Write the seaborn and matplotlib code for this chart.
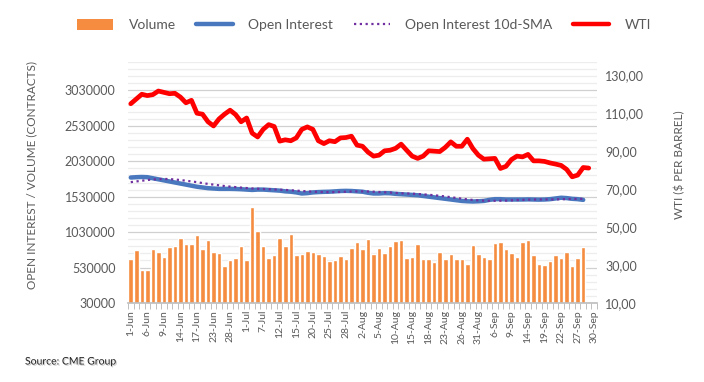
import matplotlib.pyplot as plt
import matplotlib.ticker as mticker
import matplotlib.patheffects as pe
from matplotlib.lines import Line2D
from matplotlib.patches import Patch
import numpy as np
import pandas as pd
import seaborn as sns

# trading days 1-Jun .. 30-Sep (US holidays skipped)
holidays = ["2022-06-20", "2022-07-04", "2022-09-05"]
days = pd.bdate_range("2022-06-01", "2022-09-30", freq="C", holidays=holidays)
date_labels = [f"{d.day}-{d.strftime('%b')}" for d in days]

# volume (contracts), 1-Jun .. 28-Sep
volume = [651, 779, 496, 496, 793, 750, 680, 821, 835, 948,
          863, 863, 990, 793, 920, 750, 736, 553, 637, 665,
          835, 637, 1386, 1047, 835, 665, 708, 948, 835, 1005,
          708, 722, 764, 750, 722, 694, 623, 637, 694, 651,
          807, 891, 793, 934, 722, 807, 736, 835, 906, 920,
          665, 680, 863, 651, 651, 609, 750, 651, 722, 651,
          651, 581, 849, 722, 680, 651, 877, 891, 793, 736,
          680, 891, 920, 708, 581, 567, 623, 708, 665, 750,
          553, 665, 821]
volume = [v * 1000 for v in volume]

# open interest (thousand contracts)
open_interest = [1800, 1805, 1808, 1805, 1790, 1775, 1760, 1745, 1730, 1715,
                 1700, 1685, 1670, 1660, 1650, 1645, 1640, 1640, 1640, 1638,
                 1635, 1630, 1625, 1630, 1630, 1625, 1620, 1615, 1605, 1600,
                 1590, 1575, 1580, 1590, 1595, 1598, 1600, 1605, 1610, 1612,
                 1610, 1605, 1600, 1585, 1575, 1575, 1580, 1578, 1570, 1565,
                 1560, 1555, 1550, 1540, 1530, 1520, 1510, 1500, 1490, 1480,
                 1470, 1465, 1462, 1465, 1470, 1485, 1495, 1495, 1490, 1490,
                 1490, 1490, 1492, 1490, 1488, 1490, 1495, 1505, 1515, 1510,
                 1500, 1495, 1485]
open_interest = [v * 1000 for v in open_interest]

oi_sma = [1735, 1745, 1755, 1765, 1772, 1778, 1780, 1778, 1772, 1765,
          1755, 1745, 1735, 1722, 1710, 1700, 1690, 1680, 1672, 1665,
          1658, 1652, 1646, 1642, 1638, 1635, 1632, 1628, 1625, 1620,
          1615, 1610, 1605, 1600, 1598, 1595, 1594, 1595, 1597, 1600,
          1603, 1605, 1605, 1603, 1600, 1596, 1592, 1588, 1583, 1578,
          1575, 1572, 1568, 1563, 1557, 1550, 1542, 1533, 1523, 1512,
          1502, 1492, 1484, 1478, 1474, 1472, 1472, 1473, 1475, 1478,
          1482, 1485, 1488, 1490, 1491, 1491, 1491, 1492, 1494, 1496,
          1498, 1499, 1499]
oi_sma = [v * 1000 for v in oi_sma]

# WTI ($ per barrel), 1-Jun .. 29-Sep
wti = [115.0, 117.5, 120.0, 119.3, 119.8, 121.7, 121.0, 120.3, 120.5, 118.5,
       115.5, 116.8, 110.0, 109.5, 105.5, 103.3, 107.0, 109.5, 111.6, 109.3,
       105.5, 107.5, 99.5, 97.5, 101.5, 104.0, 103.0, 95.3, 96.0, 95.5,
       97.0, 101.5, 102.8, 101.5, 95.5, 94.0, 95.5, 95.0, 97.0, 97.2,
       97.9, 93.2, 92.6, 89.5, 87.4, 87.9, 90.2, 90.5, 91.5, 93.7,
       90.5, 87.4, 86.2, 87.4, 90.2, 90.0, 89.8, 92.0, 94.9, 92.6,
       92.6, 96.3, 91.4, 87.9, 85.8, 86.0, 86.2, 80.9, 82.0, 85.6,
       87.4, 87.0, 88.3, 84.9, 84.9, 84.6, 83.8, 83.2, 82.5, 80.4,
       76.5, 77.4, 81.4, 81.1]

left_ticks = list(range(30000, 3030001, 500000))
right_ticks = [10, 30, 50, 70, 90, 110, 130]

bar_color = "#F58C3F"
oi_color = "#4A78BE"
sma_color = "#7030A0"
wti_color = "#FF0000"
text_color = "#595959"

sns.set_theme(style="white")
plt.rcParams["font.family"] = ["Lato", "DejaVu Sans"]

fig = plt.figure(figsize=(7.04, 3.82), dpi=100)
ax = fig.add_axes([128 / 704, 1 - 303 / 382, (597 - 128) / 704, (303 - 62) / 382])

vol_df = pd.DataFrame({"date": date_labels[:len(volume)], "volume": volume})
sns.barplot(data=vol_df, x="date", y="volume", order=date_labels, color=bar_color,
            saturation=1, width=0.82, ax=ax, zorder=2)

pos = np.arange(len(open_interest))
sns.lineplot(x=pos, y=open_interest, ax=ax, color=oi_color, lw=3.2, zorder=3)
sns.lineplot(x=pos, y=oi_sma, ax=ax, color=sma_color, lw=1.6, ls=(0, (1, 1.6)), zorder=4)

ax.set_xlim(-0.5, len(date_labels) - 0.5)
ax.set_ylim(30000, 3430000)
ax.set_yticks(left_ticks)
ax.set_yticklabels([str(t) for t in left_ticks])
ax.yaxis.set_minor_locator(mticker.FixedLocator(np.arange(30000, 3430001, 100000)))
ax.grid(True, which="major", axis="y", color="#D0D0D0", lw=0.9, zorder=0)
ax.grid(True, which="minor", axis="y", color="#EDEDED", lw=0.9, zorder=0)
ax.set_axisbelow(True)

ax.set_xticks(np.arange(0, len(date_labels), 3))
ax.set_xticklabels(date_labels[::3], rotation=90, fontsize=7.5, color=text_color)
ax.xaxis.set_minor_locator(mticker.FixedLocator(np.arange(-0.5, len(date_labels), 1)))
ax.tick_params(axis="x", which="major", length=0, pad=5)
ax.tick_params(axis="x", which="minor", length=4, width=0.7, color="#BFBFBF", bottom=True)
ax.tick_params(axis="y", which="both", length=0, labelsize=9, labelcolor=text_color, pad=9)

for side in ["top", "right", "left"]:
    ax.spines[side].set_visible(False)
ax.spines["bottom"].set_color("#BFBFBF")
ax.set_xlabel("")
ax.set_ylabel("OPEN INTEREST / VOLUME (CONTRACTS)", fontsize=8.5, color=text_color)
ax.yaxis.set_label_coords((37 - 128) / 469, (303 - 175) / 241)

ax2 = ax.twinx()
sns.lineplot(x=np.arange(len(wti)), y=wti, ax=ax2, color=wti_color, lw=3.4, zorder=5)
ax2.set_ylim(10, 137)
ax2.set_yticks(right_ticks)
ax2.set_yticklabels([f"{t:.2f}".replace(".", ",") for t in right_ticks])
ax2.tick_params(axis="y", length=0, labelsize=9, labelcolor=text_color, pad=6)
for side in ["top", "right", "left", "bottom"]:
    ax2.spines[side].set_visible(False)
ax2.set_ylabel("WTI ($ PER BARREL)", fontsize=8.5, color=text_color, rotation=90)
ax2.yaxis.set_label_coords((674 - 128) / 469, (303 - 165) / 241)
ax2.grid(False)

handles = [
    Patch(facecolor=bar_color, edgecolor="none"),
    Line2D([], [], color=oi_color, lw=3.2),
    Line2D([], [], color=sma_color, lw=1.6, ls=(0, (1, 1.6))),
    Line2D([], [], color=wti_color, lw=3.2),
]
fig.legend(handles, ["Volume", "Open Interest", "Open Interest 10d-SMA", "WTI"],
           loc="center", bbox_to_anchor=(0.517, 1 - 25 / 382), ncol=4, frameon=False,
           fontsize=10, labelcolor=text_color, handlelength=2.6, handleheight=0.9,
           handletextpad=1.1, columnspacing=1.5)

fig.text(25 / 704, 1 - 362 / 382, "Source: CME Group", fontsize=7.5, color="#222222",
         va="center", ha="left",
         path_effects=[pe.withSimplePatchShadow(offset=(0.8, -0.8), shadow_rgbFace="#999999", alpha=0.5)])

fig.savefig("out.png", dpi=100)
